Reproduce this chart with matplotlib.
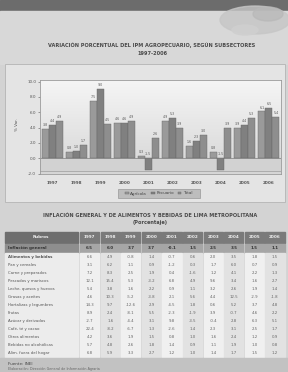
import matplotlib.pyplot as plt
from matplotlib.patches import Rectangle, Ellipse
from matplotlib.colors import LinearSegmentedColormap
import numpy as np

# ---- data (estimated where blurry) ----
years = ['1997', '1998', '1999', '2000', '2001', '2002', '2003', '2004', '2005', '2006']
series_names = ['Agrícola', 'Pecuario', 'Total']
agricola = [3.8, 0.8, 7.5, 4.6, 0.3, 4.9, 1.6, 0.8, 3.9, 6.1]
pecuario = [4.4, 1.0, 9.0, 4.6, -1.5, 5.3, 2.3, -1.5, 4.4, 6.5]
total = [4.9, 1.7, 4.5, 4.9, 2.6, 3.9, 3.0, 3.9, 5.3, 5.4]

chart_title = 'VARIACIÓN PORCENTUAL DEL IPM AGROPECUARIO, SEGÚN SUBSECTORES\n1997-2006'
table_title = 'INFLACIÓN GENERAL Y DE ALIMENTOS Y BEBIDAS DE LIMA METROPOLITANA\n(Porcentaje)'

row_general = 'Inflación general'
general_vals = [6.5, 6.0, 3.7, 3.7, -0.1, 1.5, 2.5, 3.5, 1.5, 1.1]
row_labels = ['Alimentos y bebidas', 'Pan y cereales', 'Carne y preparados',
              'Pescados y mariscos', 'Leche, quesos y huevos', 'Grasas y aceites',
              'Hortalizas y legumbres', 'Frutas', 'Azúcar y derivados',
              'Café, té y cacao', 'Otros alimentos', 'Bebidas no alcohólicas',
              'Alim. fuera del hogar']
row_vals = [
    [6.6, 4.9, -0.8, 1.4, -0.7, 0.6, 2.0, 3.5, 1.8, 1.5],
    [3.1, 6.2, 1.1, 0.9, -1.2, 0.3, 1.7, 6.0, 0.7, 0.9],
    [7.2, 8.3, 2.5, 1.9, 0.4, -1.6, 1.2, 4.1, 2.2, 1.3],
    [12.1, 15.4, 5.3, -3.2, 6.8, 4.9, 9.6, 3.4, 1.6, 2.7],
    [5.4, 3.8, 1.6, 2.2, 0.9, 1.1, 3.2, 2.6, 1.9, 1.4],
    [4.6, 10.3, -5.2, -3.8, 2.1, 5.6, 4.4, 12.5, -2.9, -1.8],
    [14.3, 9.7, -12.6, 2.9, -4.5, 1.8, 0.6, 5.2, 3.7, 4.8],
    [8.9, 2.4, -8.1, 5.5, -2.3, -1.9, 3.9, -0.7, 4.6, 2.2],
    [-2.7, 1.6, -4.4, 3.1, 9.8, -3.5, -0.4, 2.8, 6.3, 5.1],
    [22.4, -8.2, -6.7, 1.3, -2.6, 1.4, 2.3, 3.1, 2.5, 1.7],
    [4.2, 3.6, 1.9, 1.5, 0.8, 1.0, 1.6, 2.4, 1.2, 0.9],
    [5.7, 4.8, 2.6, 1.8, 1.4, 0.9, 1.1, 1.9, 1.0, 0.8],
    [6.8, 5.9, 3.3, 2.7, 1.2, 1.0, 1.4, 1.7, 1.5, 1.2],
]
source_text = 'Fuente: INEI'
source_note = 'Elaboración: Dirección General de Información Agraria'

W, H = 288, 372
fig = plt.figure(figsize=(W / 100, H / 100), dpi=100, facecolor='#d3d3d3')

# page background drawn in pixel coordinates
pg = fig.add_axes([0, 0, 1, 1], zorder=0)
pg.set_xlim(0, W)
pg.set_ylim(H, 0)
pg.axis('off')

pg.add_patch(Rectangle((0, 0), W, 11, color='#6c6c6c'))
pg.add_patch(Rectangle((0, 11), W, 53, color='#d8d8d8'))
pg.add_patch(Ellipse((255, 20), 70, 28, color='#c6c6c6', alpha=0.8))
pg.add_patch(Ellipse((268, 14), 30, 14, color='#b8b8b8', alpha=0.7))
pg.add_patch(Ellipse((245, 30), 26, 10, color='#cfcfcf', alpha=0.9))
pg.text(152, 49, chart_title, ha='center', va='center', fontsize=3.6,
        fontweight='bold', color='#4a4a4a', linespacing=1.7)

# chart panel
pg.add_patch(Rectangle((5, 64), 280, 138, facecolor='#e4e4e4',
                       edgecolor='#b4b4b4', lw=0.6))
pg.add_patch(Rectangle((118, 189), 82, 9, facecolor='#bdbdbd',
                       edgecolor='#8a8a8a', lw=0.4))
pg.text(17, 125, '% Var.', rotation=90, ha='center', va='center',
        fontsize=3, color='#555555')

# table title
pg.text(150, 219, table_title, ha='center', va='center', fontsize=3.6,
        fontweight='bold', color='#4a4a4a', linespacing=1.7)

# table
col_x0 = 80
col_w = 20.6
gap = 1.4
pg.add_patch(Rectangle((5, 232), 73, 11, color='#6e6e6e'))
pg.text(41, 237.5, 'Rubros', ha='center', va='center', fontsize=3,
        color='#eeeeee', fontweight='bold')
for i, y in enumerate(years):
    x = col_x0 + i * col_w
    pg.add_patch(Rectangle((x, 232), col_w - gap, 11, color='#7a7a7a'))
    pg.text(x + (col_w - gap) / 2, 237.5, y, ha='center', va='center',
            fontsize=3, color='#eeeeee', fontweight='bold')

# general inflation row
pg.add_patch(Rectangle((5, 244), 73, 8.5, color='#8e8e8e'))
pg.text(8, 248.2, row_general, ha='left', va='center', fontsize=2.9,
        color='#333333', fontweight='bold')
for i, v in enumerate(general_vals):
    x = col_x0 + i * col_w
    pg.add_patch(Rectangle((x, 244), col_w - gap, 8.5, color='#a6a6a6'))
    pg.text(x + (col_w - gap) / 2, 248.2, f'{v:.1f}', ha='center',
            va='center', fontsize=2.9, color='#333333', fontweight='bold')

# body rows
body_top = 253
row_h = 8.0
body_h = row_h * len(row_labels)
pg.add_patch(Rectangle((5, body_top), 73, body_h, color='#ececec'))
for i in range(len(years)):
    x = col_x0 + i * col_w
    shade = '#f0f0f0' if i % 2 == 0 else '#e2e2e2'
    pg.add_patch(Rectangle((x, body_top), col_w - gap, body_h, color=shade))
for r, (lab, vals) in enumerate(zip(row_labels, row_vals)):
    yc = body_top + r * row_h + row_h / 2
    pg.text(8, yc, lab, ha='left', va='center', fontsize=2.8,
            color='#555555', fontweight='bold' if r == 0 else 'normal')
    for i, v in enumerate(vals):
        x = col_x0 + i * col_w
        pg.text(x + (col_w - gap) / 2, yc, f'{v:.1f}', ha='center',
                va='center', fontsize=2.8, color='#666666')

foot_y = body_top + body_h + 1
pg.add_patch(Rectangle((0, foot_y), W, H - foot_y, color='#c2c2c2'))
pg.text(8, foot_y + 6, source_text, ha='left', va='center', fontsize=3,
        color='#444444')
pg.text(8, foot_y + 11, source_note, ha='left', va='center', fontsize=2.4,
        color='#666666')

# ---- bar chart ----
ax = fig.add_axes([40 / W, 1 - 174 / H, 241 / W, 94 / H], zorder=1)
bg = LinearSegmentedColormap.from_list('bg', ['#f5f5f5', '#d6d6d6'])
grad = np.linspace(0, 1, 100).reshape(-1, 1)
ax.imshow(grad, extent=(-0.5, 9.5, -2.05, 10.2), aspect='auto',
          cmap=bg, zorder=0, origin='upper')
ax.axhspan(-1.6, 0, color='#d2d2d2', zorder=1)
ax.axhline(0, color='#808080', lw=0.5, zorder=2)
ax.axhline(-1.6, color='#909090', lw=0.4, zorder=2)

x = np.arange(len(years))
bw = 0.29
colors = ['#9a9a9a', '#808080', '#8e8e8e']
for k, (vals, c) in enumerate(zip([agricola, pecuario, total], colors)):
    xs = x + (k - 1) * bw
    ax.bar(xs, vals, bw, color=c, edgecolor='#666666', lw=0.3, zorder=3,
           label=series_names[k])
    for xi, v in zip(xs, vals):
        ax.text(xi, max(v, 0) + 0.25, f'{v:.1f}', ha='center', va='bottom',
                fontsize=2.3, color='#555555', zorder=4)

ax.set_xlim(-0.5, 9.5)
ax.set_ylim(-2.05, 10.2)
ax.set_yticks(np.arange(-2, 11, 2))
ax.set_yticklabels([f'{t:.1f}' for t in np.arange(-2, 11, 2)])
ax.set_xticks(x)
ax.set_xticklabels(years, fontweight='bold')
ax.tick_params(axis='both', labelsize=3, length=1.2, width=0.4,
               colors='#555555', pad=1.5)
ax.tick_params(axis='x', pad=5, length=0)
for s in ax.spines.values():
    s.set_color('#9a9a9a')
    s.set_linewidth(0.6)

leg = fig.legend(loc='center', bbox_to_anchor=(159 / W, 1 - 193.5 / H),
                 ncol=3, fontsize=3, frameon=False, handlelength=0.8,
                 handleheight=0.6, columnspacing=1.0, handletextpad=0.4,
                 labelcolor='#444444')

fig.savefig('out.png', dpi=100, facecolor=fig.get_facecolor())
